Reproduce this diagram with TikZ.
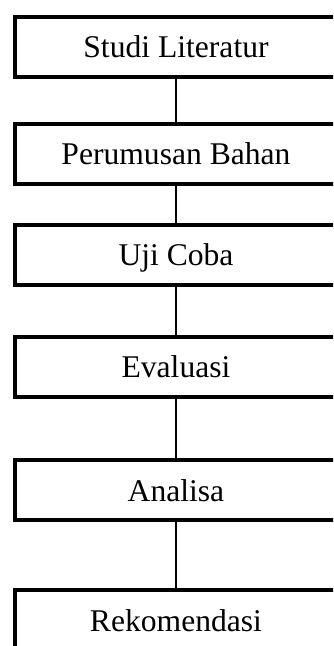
\documentclass[tikz,border=0pt]{standalone}
\usepackage{fontspec}
\setmainfont{Liberation Serif}
\usetikzlibrary{positioning}

\begin{document}
\begin{tikzpicture}[
  stage/.style={draw, line width=4pt, align=center, font=\fontsize{31.6}{36}\selectfont, minimum width=322pt, minimum height=60pt, inner sep=0pt, outer sep=0pt, text height=22pt, text depth=0pt},
  link/.style={line width=1.3pt}
]
\clip (0,0) rectangle (333pt,-646pt);
\node[stage] (s1) at (176pt,-46.5pt) {Studi Literatur};
\node[stage, below=47pt of s1] (s2) {Perumusan Bahan};
\node[stage, below=41pt of s2] (s3) {Uji Coba};
\node[stage, below=52pt of s3] (s4) {Evaluasi};
\node[stage, below=63.5pt of s4] (s5) {Analisa};
\node[stage, below=70pt of s5] (s6) {Rekomendasi};
\foreach \i/\j in {1/2,2/3,3/4,4/5,5/6} {\draw[link] (s\i.south) -- (s\j.north);}
\end{tikzpicture}
\end{document}
